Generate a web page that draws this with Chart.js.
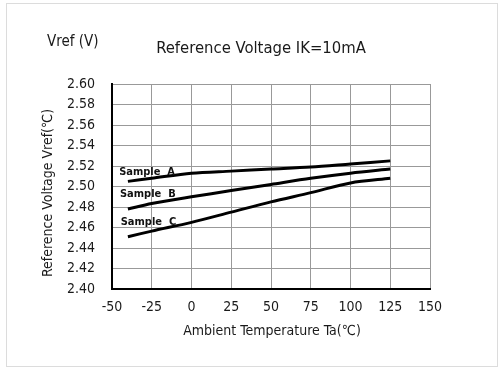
<!DOCTYPE html>
<html>
<head>
<meta charset="utf-8">
<script src="https://cdn.jsdelivr.net/npm/chart.js@4.4.0/dist/chart.umd.min.js"></script>
<style>
  html, body { margin: 0; padding: 0; background: #fff; }
  #wrap { width: 503px; height: 371px; }
</style>
</head>
<body>
<div id="wrap"><canvas id="c" width="503" height="371"></canvas></div>
<script>
// temperatures (deg C) and Vref readings for each sample
const temps = [-40, -25, 0, 25, 50, 75, 100, 125];
const sampleA = [2.505, 2.508, 2.513, 2.515, 2.517, 2.519, 2.522, 2.525];
const sampleB = [2.478, 2.4835, 2.490, 2.496, 2.502, 2.508, 2.513, 2.517];
const sampleC = [2.451, 2.4565, 2.465, 2.475, 2.485, 2.494, 2.5035, 2.508];
const sampleNames = ['Sample  A', 'Sample  B', 'Sample  C'];

const FONT = '"DejaVu Sans Condensed", "DejaVu Sans", sans-serif';

function toPts(vals) {
    return temps.map((t, i) => ({x: t, y: vals[i]}));
}

// frame + free texts
const extras = {
    id: 'extras',
    beforeDraw(chart) {
        const ctx = chart.ctx;
        ctx.save();
        ctx.strokeStyle = '#dcdcdc';
        ctx.lineWidth = 1;
        ctx.strokeRect(6.5, 3.5, 491, 363);
        ctx.restore();
    },
    afterDraw(chart) {
        const ctx = chart.ctx;
        const xs = chart.scales.x, ys = chart.scales.y;
        ctx.save();
        ctx.fillStyle = '#1a1a1a';
        ctx.textBaseline = 'middle';

        ctx.font = '15px ' + FONT;
        ctx.textAlign = 'left';
        ctx.fillText('Vref (V)', 47, 42);

        ctx.font = '16.5px ' + FONT;
        ctx.textAlign = 'center';
        ctx.fillText('Reference Voltage IK=10mA', 261, 49);

        ctx.font = '14px ' + FONT;
        ctx.fillText('Ambient Temperature Ta(\u2103)', 272, 331);

        ctx.save();
        ctx.translate(48, 193);
        ctx.rotate(-Math.PI / 2);
        ctx.font = '14px ' + FONT;
        ctx.fillText('Reference Voltage Vref(\u2103)', 0, 0);
        ctx.restore();

        // sample labels, anchored in data space
        ctx.font = 'bold 11px ' + FONT;
        ctx.textAlign = 'left';
        ctx.fillStyle = '#111';
        const anchors = [[-45.5, 2.5138], [-45, 2.4923], [-44.5, 2.4656]];
        anchors.forEach((a, i) => {
            ctx.fillText(sampleNames[i], xs.getPixelForValue(a[0]), ys.getPixelForValue(a[1]));
        });
        ctx.restore();
    }
};

const lineStyle = {
    borderColor: '#000',
    borderWidth: 3,
    pointRadius: 0,
    tension: 0.3,
    fill: false
};

new Chart(document.getElementById('c'), {
    type: 'line',
    data: {
        datasets: [
            Object.assign({label: sampleNames[0], data: toPts(sampleA)}, lineStyle),
            Object.assign({label: sampleNames[1], data: toPts(sampleB)}, lineStyle),
            Object.assign({label: sampleNames[2], data: toPts(sampleC)}, lineStyle)
        ]
    },
    options: {
        responsive: false,
        animation: false,
        layout: { padding: { left: 0, top: 84, right: 73, bottom: 0 } },
        plugins: {
            legend: { display: false },
            title: { display: false },
            tooltip: { enabled: false }
        },
        scales: {
            x: {
                type: 'linear',
                min: -50,
                max: 150,
                ticks: {
                    stepSize: 25,
                    padding: 10,
                    color: '#1a1a1a',
                    font: { family: FONT, size: 14 }
                },
                grid: { color: '#999', lineWidth: 1, drawTicks: false },
                border: { color: '#000', width: 2 },
                afterFit(scale) { scale.height = 82; }
            },
            y: {
                min: 2.40,
                max: 2.60,
                ticks: {
                    stepSize: 0.02,
                    padding: 17,
                    color: '#1a1a1a',
                    font: { family: FONT, size: 14 },
                    callback: v => v.toFixed(2)
                },
                grid: { color: '#999', lineWidth: 1, drawTicks: false },
                border: { color: '#000', width: 2 },
                afterFit(scale) { scale.width = 112; }
            }
        }
    },
    plugins: [extras]
});
</script>
</body>
</html>
